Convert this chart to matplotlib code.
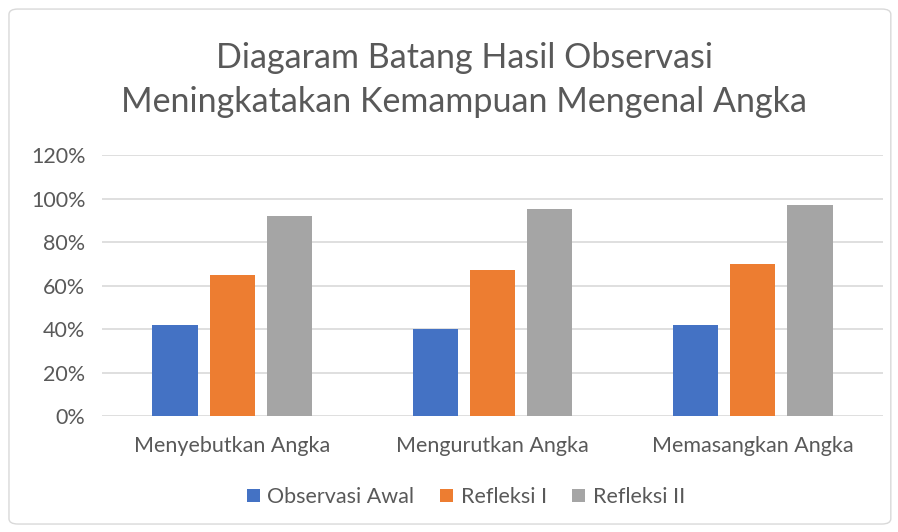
import matplotlib
matplotlib.use("Agg")
import matplotlib.pyplot as plt
import numpy as np
from matplotlib.patches import FancyBboxPatch

categories = ["Menyebutkan Angka", "Mengurutkan Angka", "Memasangkan Angka"]
series_names = ["Observasi Awal", "Refleksi I", "Refleksi II"]
observasi_awal = [0.42, 0.40, 0.42]
refleksi_1 = [0.65, 0.67, 0.70]
refleksi_2 = [0.92, 0.95, 0.97]
y_ticks = [0, 0.2, 0.4, 0.6, 0.8, 1.0, 1.2]
y_ticklabels = ["0%", "20%", "40%", "60%", "80%", "100%", "120%"]
title = "Diagaram Batang Hasil Observasi\nMeningkatakan Kemampuan Mengenal Angka"

colors = ["#4472C4", "#ED7D31", "#A5A5A5"]
plt.rcParams['font.family'] = ['Lato', 'DejaVu Sans']
txt = "#595959"

fig = plt.figure(figsize=(8.98, 5.32), dpi=100)
fig.patches.append(FancyBboxPatch((0.010, 0.015), 0.982, 0.968, boxstyle="round,pad=0,rounding_size=0.01",
                                  transform=fig.transFigure, fill=False, ec="#D9D9D9", lw=1.0))
ax = fig.add_axes([102/898, 1-416.3/532, 781/898, (416.3-155)/532])

x = np.arange(len(categories))
w = 0.174
step = 0.22
for i, (vals, name) in enumerate(zip([observasi_awal, refleksi_1, refleksi_2], series_names)):
    ax.bar(x + (i - 1) * step, vals, width=w, color=colors[i], label=name, zorder=3)

ax.set_xlim(-0.5, 2.5)
ax.set_ylim(0, 1.2)
ax.set_yticks(y_ticks)
ax.set_yticklabels(y_ticklabels)
ax.set_xticks(x)
ax.set_xticklabels(categories)
ax.tick_params(axis='both', length=0, labelsize=15.5, colors=txt)
ax.tick_params(axis='x', pad=14)
ax.tick_params(axis='y', pad=12)
ax.grid(axis='y', color="#D9D9D9", lw=1.2, zorder=0)
for s in ax.spines.values():
    s.set_visible(False)

fig.text(464/898, 1-80/532, title, ha='center', va='center', fontsize=24.5, color=txt, linespacing=1.47)

leg = fig.legend(loc='center', bbox_to_anchor=(466/898, 1-497/532), ncol=3, frameon=False,
                 fontsize=15.5, handlelength=0.6, handleheight=0.6, handletextpad=0.35, columnspacing=1.2)
for t in leg.get_texts():
    t.set_color(txt)

fig.savefig("out.png", dpi=100)
